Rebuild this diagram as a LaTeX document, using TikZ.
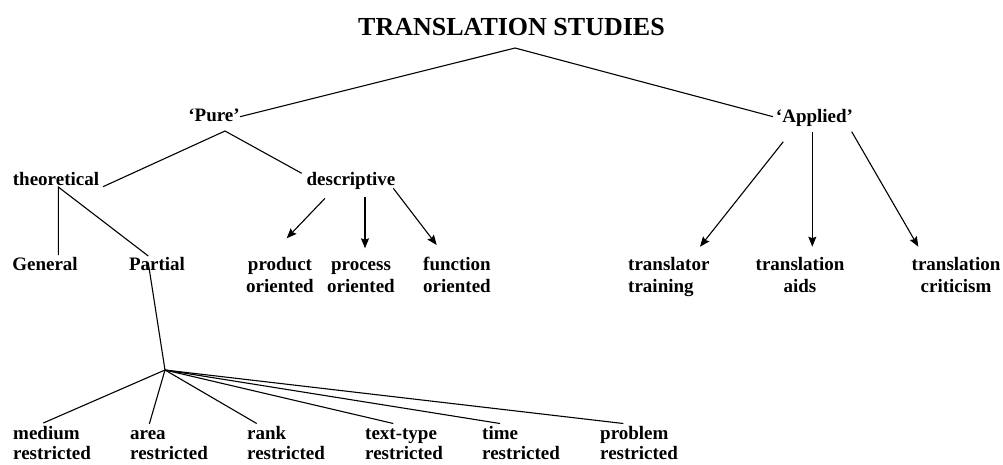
\documentclass[tikz,border=0pt]{standalone}
\usepackage{fontspec}
\setmainfont{Liberation Serif}
\usetikzlibrary{arrows.meta}
\begin{document}
\begin{tikzpicture}[x=1pt,y=-1pt,
  lbl/.style={font=\fontsize{19}{21.5}\selectfont\bfseries, inner sep=0pt, anchor=base},
  lblw/.style={lbl, anchor=base west, align=left},
  lblc/.style={lbl, align=center},
  lblb/.style={lblw, font=\fontsize{19}{19.5}\selectfont\bfseries},
  conn/.style={line width=1.1pt, black},
  arr/.style={conn, -{Stealth[length=10pt,width=8pt,inset=1.5pt]}}]
\useasboundingbox[fill=white] (0,0) rectangle (1003,464);
% nodes (multi-line nodes are placed by the baseline of their last line)
\node[lbl, font=\fontsize{26}{28}\selectfont\bfseries] (ts) at (511.5,35) {TRANSLATION STUDIES};
\node[lbl] (pure) at (214,121.5) {‘Pure’};
\node[lbl] (applied) at (814.5,122.5) {‘Applied’};
\node[lbl] (theo) at (56,185.5) {theoretical};
\node[lbl] (desc) at (351,185.5) {descriptive};
\node[lbl] (gen) at (45,270) {General};
\node[lbl] (part) at (157,270) {Partial};
\node[lblc] (prod) at (280,292) {product\\oriented};
\node[lblc] (proc) at (361,292) {process\\oriented};
\node[lblw] (func) at (423,292) {function\\oriented};
\node[lblw] (train) at (628,292) {translator\\training};
\node[lblc] (aids) at (800,292) {translation\\aids};
\node[lblc] (crit) at (956,292) {translation\\criticism};
\node[lblb] (med) at (13,459) {medium\\restricted};
\node[lblb] (area) at (130,459) {area\\restricted};
\node[lblb] (rank) at (247,459) {rank\\restricted};
\node[lblb] (ttype) at (365,459) {text-type\\restricted};
\node[lblb] (time) at (482,459) {time\\restricted};
\node[lblb] (prob) at (600,459) {problem\\restricted};
% connector end points
\coordinate (tsB) at (515,48);
\coordinate (pureR) at (240,116.7);
\coordinate (applL) at (773,116.7);
\coordinate (pureB) at (225,131);
\coordinate (theoR) at (103,186.7);
\coordinate (descL) at (301.7,173.3);
\coordinate (theoB) at (58.3,187);
\coordinate (genT) at (58.3,255);
\coordinate (partT) at (148.3,256);
\coordinate (partB) at (148.3,263);
\coordinate (fan) at (165,370);
\coordinate (medT) at (43.3,423);
\coordinate (areaT) at (149.3,424);
\coordinate (rankT) at (256.7,423.5);
\coordinate (ttypeT) at (393.3,423.5);
\coordinate (timeT) at (500,423.5);
\coordinate (probT) at (623.3,423.5);
\coordinate (descA) at (325,198.3);
\coordinate (prodT) at (286.7,238.3);
\coordinate (descB) at (365,196.7);
\coordinate (procT) at (365,248.3);
\coordinate (descC) at (393.3,188.3);
\coordinate (funcT) at (436.7,245);
\coordinate (applA) at (783.3,141.7);
\coordinate (trainT) at (700,246.7);
\coordinate (applB) at (812.3,131.7);
\coordinate (aidsT) at (812.3,246.7);
\coordinate (applC) at (851.7,131.7);
\coordinate (critT) at (918.3,246.7);
% connectors
\draw[conn] (pureR) -- (tsB) -- (applL);
\draw[conn] (theoR) -- (pureB) -- (descL);
\draw[conn] (genT) -- (theoB) -- (partT);
\draw[conn] (partB) -- (fan);
\foreach \t in {medT,areaT,rankT,ttypeT,timeT,probT} \draw[conn] (fan) -- (\t);
\draw[arr] (descA) -- (prodT);
\draw[arr] (descB) -- (procT);
\draw[arr] (descC) -- (funcT);
\draw[arr] (applA) -- (trainT);
\draw[arr] (applB) -- (aidsT);
\draw[arr] (applC) -- (critT);
\end{tikzpicture}
\end{document}
